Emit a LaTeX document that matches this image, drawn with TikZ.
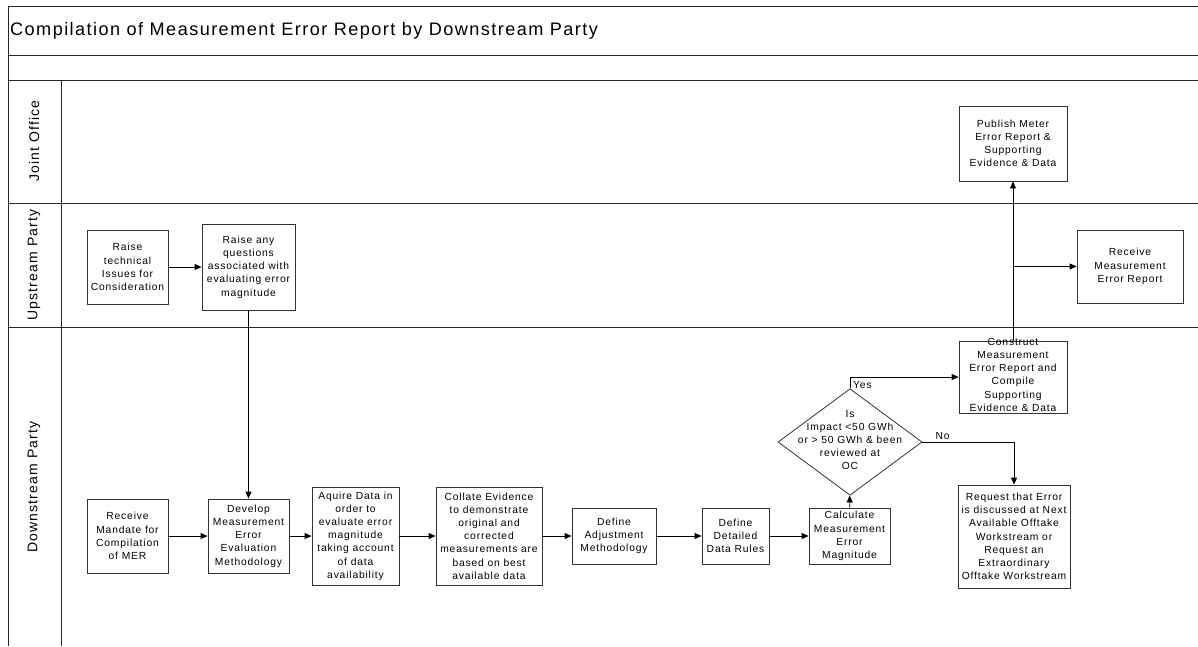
\documentclass[tikz,border=0pt]{standalone}
\usepackage{fontspec}
\setmainfont{Liberation Sans}[LetterSpace=8]
\usetikzlibrary{
    shapes.geometric,
    positioning,
    calc,
    arrows.meta
}
\tikzset{
  basic/.style = {
      draw=black!80,
      line width=0.8pt,
      rectangle,
      fill=white,
      align=center,
      inner sep=0pt,
      font=\fontsize{10.3}{13.2}\selectfont
  },
  boxsize/.style 2 args = {
      minimum width=#1,
      minimum height=#2
  },
  task/.style = {
      basic
  },
  decision/.style = {
      basic,
      diamond
  },
  lane/.style = {
      line width=1pt,
      draw=black!85
  },
  lane label/.style = {
      rotate=90,
      inner sep=0pt,
      font=\fontsize{14}{16}\selectfont
  },
  flow/.style = {
      line width=0.8pt,
      -{Triangle[length=7pt,width=6pt]}
  },
  tag/.style = {
      inner sep=0pt,
      font=\fontsize{10.3}{12}\selectfont
  }
}

\begin{document}
\begin{tikzpicture}[x=1pt, y=-1pt]
    \useasboundingbox (0,0) rectangle (1198,646);
    % Pool and lanes
    \draw[lane] (1198,6) -- (8,6) -- (8,646);
    \draw[lane] (8,55) -- (1198,55);
    \draw[lane] (8,80) -- (1198,80);
    \draw[lane] (8,203) -- (1198,203);
    \draw[lane] (8,327) -- (1198,327);
    \draw[lane] (61,80) -- (61,646);
    \node[anchor=west, inner sep=0pt, font=\fontsize{18.1}{20}\selectfont] (title) at (10,31)
        {Compilation of Measurement Error Report by Downstream Party};
    \node[lane label] (joint) at (34,141) {Joint Office};
    \node[lane label] (upstream) at (34,265) {Upstream Party};
    \node[lane label] (downstream) at (34,487) {Downstream Party};
    % Joint Office
    \node[task, boxsize={108}{75}] (publish) at (1013,143.5)
        {Publish Meter\\Error Report \&\\Supporting\\Evidence \& Data};
    % Upstream Party
    \node[task, boxsize={81}{74}] (technical) at (127.5,267)
        {Raise\\technical\\Issues for\\Consideration};
    \node[task, boxsize={93}{86}] (questions) at (248.5,267)
        {Raise any\\questions\\associated with\\evaluating error\\magnitude};
    \node[task, boxsize={106}{73}] (receive) at (1130,266.5)
        {Receive\\Measurement\\Error Report};
    % Downstream Party
    \node[task, boxsize={81}{74}] (mandate) at (127.5,536)
        {Receive\\Mandate for\\Compilation\\of MER};
    \node[task, boxsize={81}{74}] (develop) at (248.5,536)
        {Develop\\Measurement\\Error\\Evaluation\\Methodology};
    \node[task, boxsize={87}{98}] (acquire) at (355.5,536)
        {Aquire Data in\\order to\\evaluate error\\magnitude\\taking account\\of data\\availability};
    \node[task, boxsize={106}{98}] (collate) at (489,536)
        {Collate Evidence\\to demonstrate\\original and\\corrected\\measurements are\\based on best\\available data};
    \node[task, boxsize={84}{56}] (adjust) at (614,536)
        {Define\\Adjustment\\Methodology};
    \node[task, boxsize={67}{56}] (rules) at (735.5,536)
        {Define\\Detailed\\Data Rules};
    \node[task, boxsize={81}{56}] (calculate) at (849.5,536)
        {Calculate\\Measurement\\Error\\Magnitude};
    \node[decision, boxsize={144}{100}] (impact) at (850,442)
        {\raisebox{-2.5pt}{\smash{\begin{tabular}{@{}c@{}}Is\\Impact <50 GWh\\or > 50 GWh \& been\\reviewed at\\OC\end{tabular}}}};
    \node[task, boxsize={108}{72}] (construct) at (1013,377)
        {\raisebox{-2.5pt}{\smash{\begin{tabular}{@{}c@{}}Construct\\Measurement\\Error Report and\\Compile\\Supporting\\Evidence \& Data\end{tabular}}}};
    \node[task, boxsize={112}{103}] (request) at (1014,536.5)
        {Request that Error\\is discussed at Next\\Available Offtake\\Workstream or\\Request an\\Extraordinary\\Offtake Workstream};
    % Flows
    \draw[flow] (technical) -- (questions);
    \draw[flow] (questions) -- (develop);
    \draw[flow] (mandate) -- (develop);
    \draw[flow] (develop) -- (acquire);
    \draw[flow] (acquire) -- (collate);
    \draw[flow] (collate) -- (adjust);
    \draw[flow] (adjust) -- (rules);
    \draw[flow] (rules) -- (calculate);
    \draw[flow] (calculate) -- (impact);
    \draw[flow] (impact.north) |- (construct.west);
    \draw[flow] (impact.east) -| (request.north);
    \draw[flow] (construct) -- (publish);
    \coordinate (split) at (construct.north |- receive.west);
    \draw[flow] (split) -- (receive);
    \node[tag, anchor=south west, xshift=3pt] (yes) at (impact.north) {Yes};
    \node[tag, anchor=south west, xshift=13pt, yshift=2pt] (no) at (impact.east) {No};
\end{tikzpicture}
\end{document}
